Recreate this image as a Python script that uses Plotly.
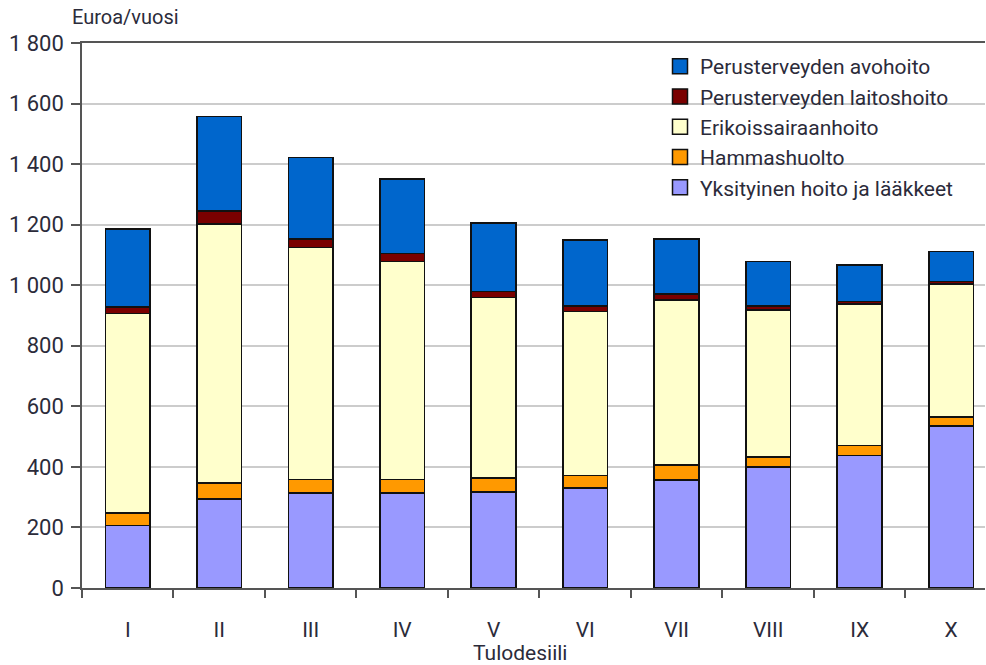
import plotly.graph_objects as go

categories = ["I", "II", "III", "IV", "V", "VI", "VII", "VIII", "IX", "X"]
yksityinen = [206, 293, 313, 313, 318, 331, 357, 399, 437, 535]
hammashuolto = [42, 53, 46, 46, 46, 40, 49, 33, 33, 29]
erikois = [658, 856, 766, 719, 595, 542, 545, 486, 468, 440]
laitoshoito = [22, 43, 27, 27, 20, 19, 20, 13, 8, 8]
avohoito = [258, 312, 270, 245, 227, 217, 181, 147, 120, 99]

series = [
    ("Yksityinen hoito ja lääkkeet", yksityinen, "#9999FF"),
    ("Hammashuolto", hammashuolto, "#FF9900"),
    ("Erikoissairaanhoito", erikois, "#FFFFCC"),
    ("Perusterveyden laitoshoito", laitoshoito, "#7A0000"),
    ("Perusterveyden avohoito", avohoito, "#0066CC"),
]

ytickvals = [0, 200, 400, 600, 800, 1000, 1200, 1400, 1600, 1800]
yticktext = ["0", "200", "400", "600", "800", "1 000", "1 200", "1 400", "1 600", "1 800"]

FONT = "Roboto, DejaVu Sans, sans-serif"
TXT = "#2b2b3a"


def f(size):
    return dict(family=FONT, size=size, color=TXT)


W, H = 986, 665
L, R, T, B = 82, 1, 43, 77
PW, PH = W - L - R, H - T - B


def px(xp):
    return (xp - L) / PW


def py(yp):
    return 1 - (yp - T) / PH


fig = go.Figure()
for name, vals, col in series:
    fig.add_trace(go.Bar(
        x=categories, y=vals, name=name, showlegend=False,
        marker=dict(color=col, line=dict(color="#111111", width=1.6)),
        width=0.49,
    ))
# legend entries (same names/colours), top to bottom as in the reference
for name, vals, col in reversed(series):
    fig.add_trace(go.Scatter(
        x=[None], y=[None], mode="markers", name=name, showlegend=True,
        marker=dict(symbol="square", size=15, color=col,
                    line=dict(color="#111111", width=1.5)),
    ))

fig.update_layout(
    width=W, height=H,
    barmode="stack",
    paper_bgcolor="white", plot_bgcolor="white",
    margin=dict(l=L, r=R, t=T, b=B, pad=0),
    font=f(21),
    showlegend=True,
    legend=dict(
        traceorder="normal",
        x=px(660), xanchor="left",
        y=py(46), yanchor="top",
        bgcolor="rgba(0,0,0,0)", borderwidth=0,
        font=f(21),
        itemsizing="trace",
        tracegroupgap=0,
    ),
    xaxis=dict(
        type="category",
        range=[-0.5, 9.37],
        automargin=False,
        showline=True, linecolor="#555555", linewidth=1.5,
        mirror=True,
        ticks="outside", ticklen=8, tickcolor="#555555", tickwidth=1.5,
        tickson="boundaries",
        showgrid=False,
        ticklabelstandoff=22,
        tickfont=f(21),
    ),
    yaxis=dict(
        range=[0, 1800],
        automargin=False,
        tickvals=ytickvals, ticktext=yticktext,
        showline=True, linecolor="#555555", linewidth=1.5,
        ticks="outside", ticklen=9, tickcolor="#555555", tickwidth=1.5,
        showgrid=True, gridcolor="#cccccc", gridwidth=1.5,
        zeroline=False,
        ticklabelstandoff=3,
        tickfont=f(22),
    ),
    shapes=[
        dict(type="rect", xref="paper", yref="paper", layer="between",
             x0=px(654), x1=1.0, y0=py(215), y1=py(45),
             fillcolor="white", line=dict(width=0)),
    ],
    annotations=[
        dict(text="Euroa/vuosi", xref="paper", yref="paper",
             x=px(70), y=py(17),
             xanchor="left", yanchor="middle", showarrow=False,
             font=f(20)),
        dict(text="Tulodesiili", xref="paper", yref="paper",
             x=px(520), y=py(653),
             xanchor="center", yanchor="middle", showarrow=False,
             font=f(21)),
    ],
)

fig.write_html(
    "out.html",
    config={"displayModeBar": False},
    post_script="document.body.style.margin='0';document.body.style.padding='0';"
                "document.documentElement.style.overflow='hidden';",
)
